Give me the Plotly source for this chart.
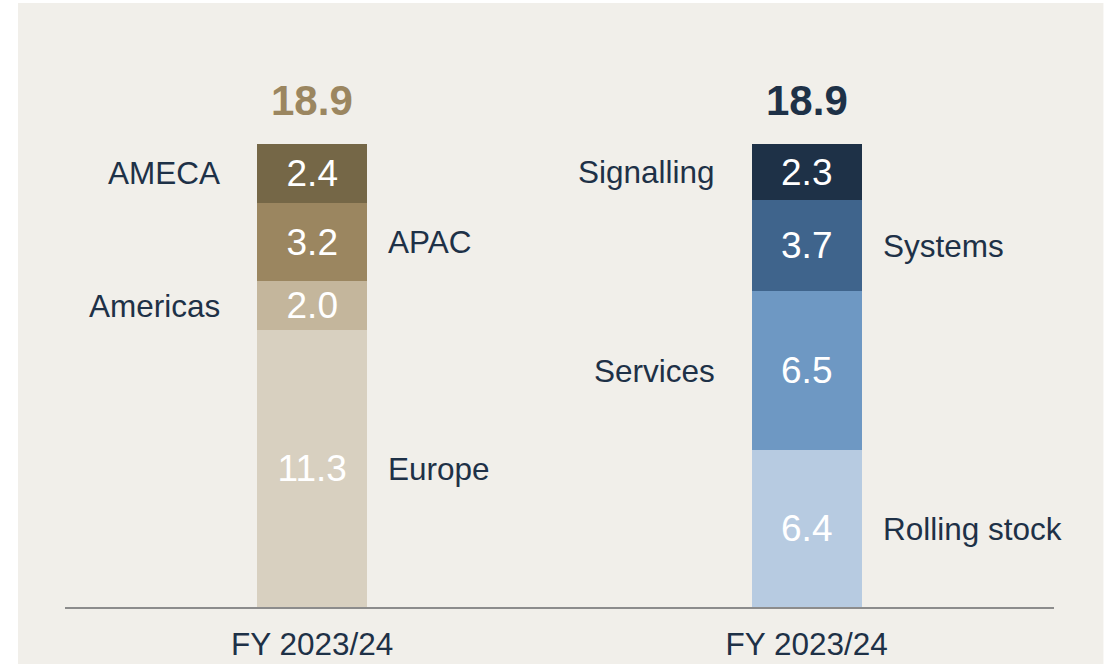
import plotly.graph_objects as go

# ---- data ----
period_labels = ["FY 2023/24", "FY 2023/24"]

regions = ["Europe", "Americas", "APAC", "AMECA"]
region_values = [11.3, 2.0, 3.2, 2.4]
region_colors = ["#d8d0c0", "#c4b69c", "#9b8660", "#756747"]
region_sides = ["right", "left", "right", "left"]

segments = ["Rolling stock", "Services", "Systems", "Signalling"]
segment_values = [6.4, 6.5, 3.7, 2.3]
segment_colors = ["#b7cbe1", "#6e98c3", "#3f648c", "#1e3147"]
segment_sides = ["right", "left", "right", "left"]

total_colors = ["#9b8660", "#1e3147"]

FONT = "Liberation Sans, Arial, sans-serif"
TEXT_DARK = "#1e3147"
BG = "#f1efea"
BAR_W = 0.222

fig = go.Figure()
annotations = []

groups = [
    (regions, region_values, region_colors, region_sides),
    (segments, segment_values, segment_colors, segment_sides),
]

for xi, (names, vals, cols, sides) in enumerate(groups):
    base = 0.0
    for name, v, c, side in zip(names, vals, cols, sides):
        fig.add_trace(go.Bar(
            x=[xi], y=[v], width=BAR_W,
            marker=dict(color=c, line=dict(width=0)),
            text=[f"{v:.1f}"], textposition="inside",
            insidetextanchor="middle", constraintext="none",
            textfont=dict(family=FONT, size=37, color="white"),
            name=name, showlegend=False, hoverinfo="name+y",
        ))
        mid = base + v / 2
        if side == "left":
            annotations.append(dict(
                x=xi - BAR_W / 2, y=mid, xref="x", yref="y",
                text=name, showarrow=False, xanchor="right", yanchor="middle",
                xshift=-35, font=dict(family=FONT, size=31.5, color=TEXT_DARK)))
        else:
            annotations.append(dict(
                x=xi + BAR_W / 2, y=mid, xref="x", yref="y",
                text=name, showarrow=False, xanchor="left", yanchor="middle",
                xshift=19, font=dict(family=FONT, size=31.5, color=TEXT_DARK)))
        base += v
    annotations.append(dict(
        x=xi, y=base, xref="x", yref="y", text=f"<b>{base:.1f}</b>",
        showarrow=False, xanchor="center", yanchor="middle", yshift=44,
        font=dict(family=FONT, size=42, color=total_colors[xi])))

fig.update_layout(
    width=1109, height=667,
    barmode="stack",
    paper_bgcolor="white",
    plot_bgcolor="rgba(0,0,0,0)",
    margin=dict(l=65, r=55, t=60, b=60, autoexpand=False),
    annotations=annotations,
    shapes=[dict(type="rect", xref="paper", yref="paper",
                 x0=-0.0475, x1=1.050, y0=-0.104, y1=1.104,
                 fillcolor=BG, line=dict(width=0), layer="below")],
    xaxis=dict(range=[-0.5, 1.5], tickvals=[0, 1], ticktext=period_labels,
               showgrid=False, zeroline=False, showline=True,
               linecolor="#8c8c8c", linewidth=2,
               ticks="outside", ticklen=8, tickcolor="rgba(0,0,0,0)",
               tickfont=dict(family=FONT, size=31.5, color=TEXT_DARK)),
    yaxis=dict(range=[0, 22.33], visible=False, showgrid=False, zeroline=False),
    showlegend=False,
)

fig.write_html(
    "out.html",
    config={"displayModeBar": False},
    post_script="document.body.style.margin='0';document.body.style.padding='0';document.body.style.overflow='hidden';",
)
